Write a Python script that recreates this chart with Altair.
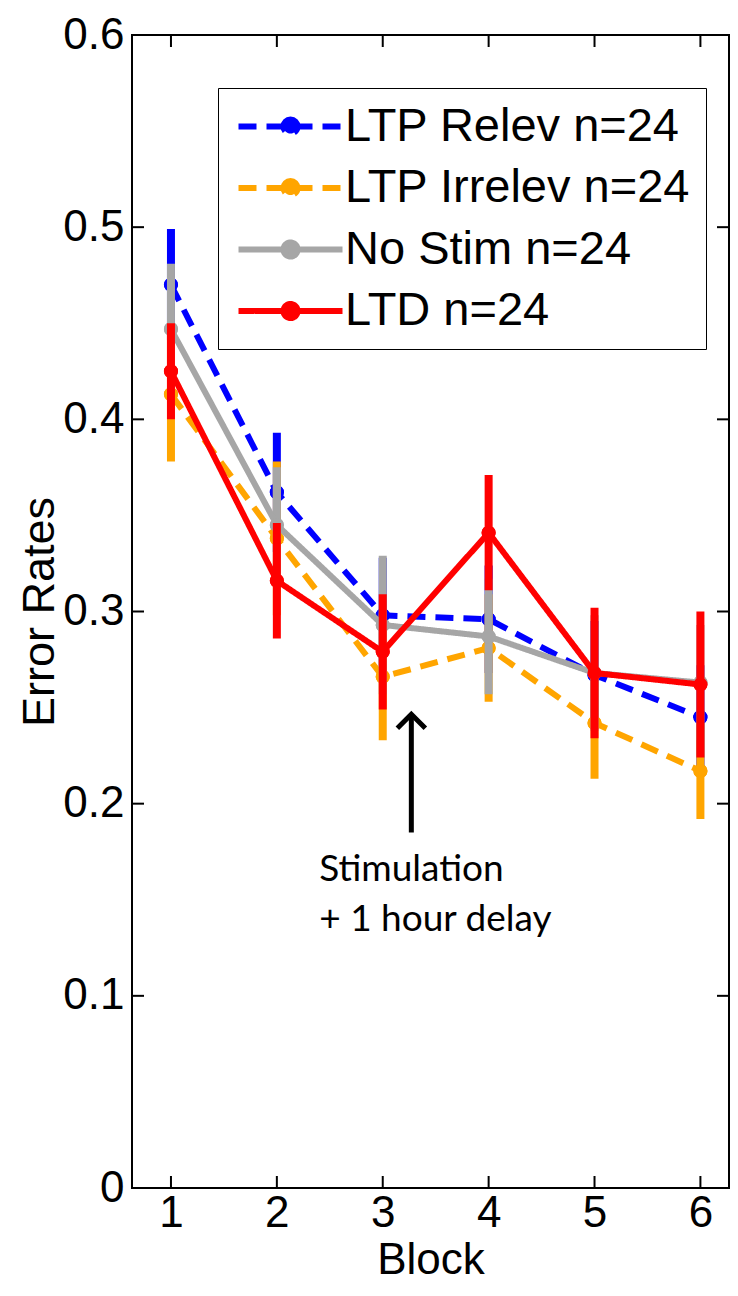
import altair as alt
import pandas as pd

# ---------------- data ----------------
blocks = [1, 2, 3, 4, 5, 6]
series_names = ["LTP Relev n=24", "LTP Irrelev n=24", "No Stim n=24", "LTD n=24"]

ltp_relev = [0.470, 0.362, 0.298, 0.296, 0.267, 0.245]
ltp_relev_err = [0.029, 0.031, 0.030, 0.028, 0.028, 0.027]

ltp_irrelev = [0.413, 0.338, 0.266, 0.281, 0.242, 0.217]
ltp_irrelev_err = [0.035, 0.040, 0.033, 0.028, 0.029, 0.025]

no_stim = [0.447, 0.345, 0.293, 0.287, 0.268, 0.263]
no_stim_err = [0.034, 0.030, 0.036, 0.030, 0.030, 0.030]

ltd = [0.425, 0.316, 0.279, 0.341, 0.268, 0.262]
ltd_err = [0.025, 0.030, 0.030, 0.030, 0.034, 0.038]

y_ticks = [0, 0.1, 0.2, 0.3, 0.4, 0.5, 0.6]

annotation_text = "Stimulation\n+ 1 hour delay"
arrow_block = 3.27
arrow_from = 0.185
arrow_to = 0.2465
text_block = 2.40
text_y = 0.1596

# ---------------- styles ----------------
colors = ["#0000FF", "#FFA500", "#A6A6A6", "#FF0000"]
dashes = [[18, 10], [18, 10], [1, 0], [1, 0]]

means = [ltp_relev, ltp_irrelev, no_stim, ltd]
errs = [ltp_relev_err, ltp_irrelev_err, no_stim_err, ltd_err]

rows = []
for name, m, e in zip(series_names, means, errs):
    for b, mv, ev in zip(blocks, m, e):
        rows.append({"series": name, "block": b, "mean": mv,
                     "lo": mv - ev, "hi": mv + ev})
df = pd.DataFrame(rows)

W, H = 597, 1153
FONT = "Liberation Sans"

x_scale = alt.Scale(domain=[0.632, 6.27], nice=False, zero=False)
y_scale = alt.Scale(domain=[0, 0.6], nice=False, zero=False)

x_axis = alt.Axis(values=blocks, format="d", domain=False, ticks=False, grid=False,
                  labelFontSize=44, labelFont=FONT, labelColor="black", labelPadding=3,
                  labelFlush=False, title="Block", titleFontSize=44, titleFont=FONT,
                  titleFontWeight="normal", titleColor="black", titlePadding=3)
y_axis = alt.Axis(values=y_ticks, format=".1~f", domain=False, ticks=False, grid=False,
                  labelFontSize=44, labelFont=FONT, labelColor="black", labelPadding=8,
                  labelFlush=False, title="Error Rates", titleFontSize=45, titleFont=FONT,
                  titleFontWeight="normal", titleColor="black", titlePadding=0)


def xenc(field):
    return alt.X(f"{field}:Q", scale=x_scale, axis=x_axis)


def yenc(field):
    return alt.Y(f"{field}:Q", scale=y_scale, axis=y_axis)


sym_path = ("M-4,0L4,0M0,-0.54A0.54,0.54,0,1,1,0,0.54"
            "A0.54,0.54,0,1,1,0,-0.54Z")
legend = alt.Legend(orient="none", legendX=86, legendY=53, title=None,
                    symbolType=sym_path, symbolSize=676, symbolStrokeWidth=6,
                    symbolOffset=34, labelOffset=31, labelFontSize=47,
                    labelFont=FONT, labelColor="black", labelLimit=1000,
                    padding=15, rowPadding=13.5, strokeColor="black",
                    fillColor="white")

color_scale = alt.Scale(domain=series_names, range=colors)
dash_scale = alt.Scale(domain=series_names, range=dashes)

base = alt.Chart(df)

# legend-source layer: filled markers for all series (covered by later layers)
layers = [
    base.mark_point(filled=True, size=200, opacity=1).encode(
        x=xenc("block"), y=yenc("mean"),
        fill=alt.Fill("series:N", scale=color_scale, legend=legend),
    )
]

for name, c in zip(series_names, colors):
    sub = base.transform_filter(alt.datum.series == name)
    layers.append(sub.mark_rule(strokeWidth=8, color=c).encode(
        x=xenc("block"), y=yenc("lo"), y2="hi:Q"))
    layers.append(sub.mark_line(strokeWidth=6, strokeCap="butt").encode(
        x=xenc("block"), y=yenc("mean"),
        stroke=alt.Stroke("series:N", scale=color_scale, legend=legend),
        strokeDash=alt.StrokeDash("series:N", scale=dash_scale, legend=legend),
    ))
    layers.append(sub.mark_point(filled=True, size=200, opacity=1, color=c).encode(
        x=xenc("block"), y=yenc("mean")))

# inward ticks on all four sides (box style)
xt = alt.Chart(pd.DataFrame({"block": blocks}))
yt = alt.Chart(pd.DataFrame({"mean": y_ticks[1:-1]}))
layers += [
    xt.mark_rule(color="black", strokeWidth=2).encode(x=xenc("block"), y=alt.value(H), y2=alt.value(H - 12)),
    xt.mark_rule(color="black", strokeWidth=2).encode(x=xenc("block"), y=alt.value(0), y2=alt.value(12)),
    yt.mark_rule(color="black", strokeWidth=2).encode(y=yenc("mean"), x=alt.value(0), x2=alt.value(12)),
    yt.mark_rule(color="black", strokeWidth=2).encode(y=yenc("mean"), x=alt.value(W - 12), x2=alt.value(W)),
]

# annotation arrow + text
ann = alt.Chart(pd.DataFrame({"block": [arrow_block], "y0": [arrow_from], "y1": [arrow_to],
                              "tb": [text_block], "ty": [text_y], "label": [annotation_text]}))
layers += [
    ann.mark_rule(color="black", strokeWidth=5).encode(
        x=xenc("block"), y=yenc("y0"), y2="y1:Q"),
    ann.mark_point(shape="M-1,1L0,0L1,1", size=784, filled=False, color="black",
                   strokeWidth=5, opacity=1).encode(
        x=xenc("block"), y=yenc("y1")),
    ann.mark_text(align="left", baseline="alphabetic", font="Lato", fontSize=37,
                  lineBreak="\n", lineHeight=50, color="black").encode(
        x=xenc("tb"), y=yenc("ty"), text="label:N"),
]

chart = alt.layer(*layers).properties(
    width=W, height=H,
    autosize=alt.AutoSizeParams(type="none"),
    padding={"left": 124, "top": 27, "right": 1, "bottom": 98},
    background="white",
).configure_view(stroke="black", strokeWidth=2)

chart.save("out.html", embed_options={"renderer": "svg", "actions": False})
